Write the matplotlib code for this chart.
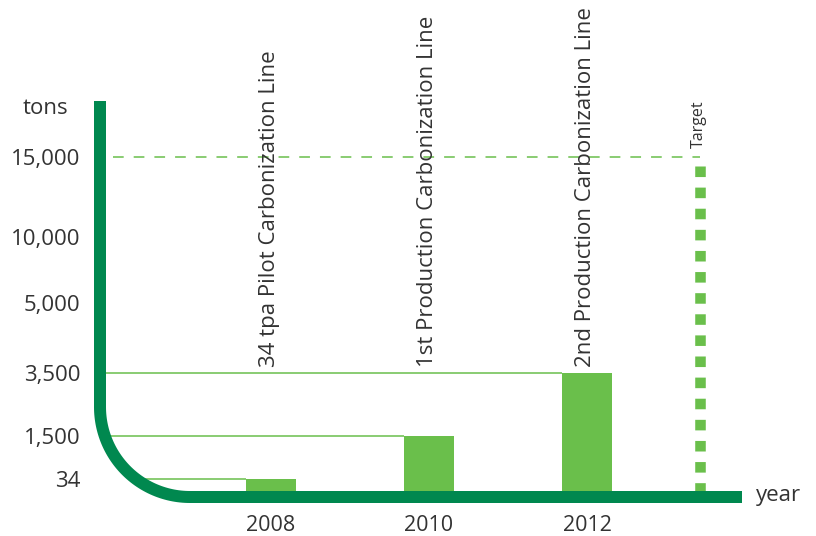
import numpy as np
import matplotlib
matplotlib.use("Agg")
import matplotlib.pyplot as plt
from matplotlib.lines import Line2D
from matplotlib.transforms import Affine2D

plt.rcParams['font.family'] = ['Open Sans', 'DejaVu Sans']
plt.rcParams['lines.scale_dashes'] = False

# ---- data ----
years = [2008, 2010, 2012]
capacity = [34, 1500, 3500]
bar_labels = ["34 tpa Pilot Carbonization Line",
              "1st Production Carbonization Line",
              "2nd Production Carbonization Line"]
tick_values = [34, 1500, 3500, 5000, 10000, 15000]
tick_labels = ["34", "1,500", "3,500", "5,000", "10,000", "15,000"]
target_value = 15000
target_year = 2013.43

# ---- non-linear value scale (value -> pixel height above baseline) ----
scale_vals = np.array([0, 34, 1500, 3500, 5000, 10000, 15000, 25000], float)
scale_pos = np.array([0, 12, 55, 118, 188, 254, 334, 494], float)

def fwd(v):
    return np.interp(v, scale_vals, scale_pos)

def inv(p):
    return np.interp(p, scale_pos, scale_vals)

DARK = "#00884f"
LIGHT = "#6abf4b"
TXT = "#333333"
W, H = 816, 536

fig = plt.figure(figsize=(W / 100, H / 100), dpi=100)
# axes: x px 100..816, baseline at y px 491, top height 494 px
ax = fig.add_axes([100 / W, (H - 491) / H, (W - 100) / W, 494 / H])
ax.set_yscale('function', functions=(fwd, inv))

def px2year(px):
    return 2008 + (px - 271) / 79.0

ax.set_xlim(px2year(100), px2year(816))
ax.set_ylim(0, 25000)
for s in ax.spines.values():
    s.set_visible(False)
ax.patch.set_alpha(0)

# bars
ax.bar(years, capacity, width=0.645, color=LIGHT, zorder=2)

# reference lines from the axis to each bar
R, cx, cy = 90.0, 190.0, 407.0
for yr, v in zip(years, capacity):
    ypx = 491 - fwd(v)
    if ypx > cy:
        xs = cx - np.sqrt(max(R ** 2 - (ypx - cy) ** 2, 0))
    else:
        xs = 100
    ax.plot([px2year(xs), yr - 0.645 / 2], [v, v], color=LIGHT, lw=1.1,
            solid_capstyle='butt', zorder=1)

# target dashed line
ax.plot([px2year(113), px2year(700)], [target_value, target_value],
        color=LIGHT, lw=1.1, dashes=(7.7, 7.2), zorder=1)
# target dotted vertical
top_v = inv(fwd(target_value) - 9)
ax.plot([target_year, target_year], [top_v, 0], color=LIGHT, lw=7.6,
        dashes=(7.6, 7.6), solid_capstyle='butt', dash_capstyle='butt', zorder=1)
ax.text(target_year - 0.02, inv(fwd(target_value) + 9), "Target", rotation=90,
        ha='center', va='bottom', fontsize=11.5, color=TXT)

# rotated bar labels
for yr, lab in zip(years, bar_labels):
    ax.text(yr - 0.02, inv(124), lab, rotation=90, ha='center', va='bottom',
            fontsize=16, color=TXT)

# ticks
ax.set_yticks(tick_values)
ax.set_yticklabels(tick_labels)
ax.set_xticks(years)
ax.set_xticklabels([str(y) for y in years])
ax.tick_params(axis='y', length=0, pad=14, labelsize=16, labelcolor=TXT)
ax.tick_params(axis='x', length=0, pad=17, labelsize=15.5, labelcolor=TXT)
ax.yaxis.set_minor_locator(matplotlib.ticker.NullLocator())

# thick L-shaped axis with rounded corner (pixel coordinates, y from top)
theta = np.linspace(np.pi, np.pi / 2, 60)
arc_x = cx + R * np.cos(theta)
arc_y = cy + R * np.sin(theta)
path_x = np.concatenate([[100], arc_x, [742]])
path_y = np.concatenate([[101], arc_y, [497]])
pix = Affine2D().scale(1, -1).translate(0, H)
fig.add_artist(Line2D(path_x, path_y, transform=pix, color=DARK, lw=12 * 0.72,
                      solid_capstyle='butt', solid_joinstyle='round', zorder=5))

fig.text(45 / W, 1 - 108 / H, "tons", ha='center', va='center', fontsize=16, color=TXT)
fig.text(756 / W, 1 - 496 / H, "year", ha='left', va='center', fontsize=16, color=TXT)

fig.savefig("out.png", dpi=100)
